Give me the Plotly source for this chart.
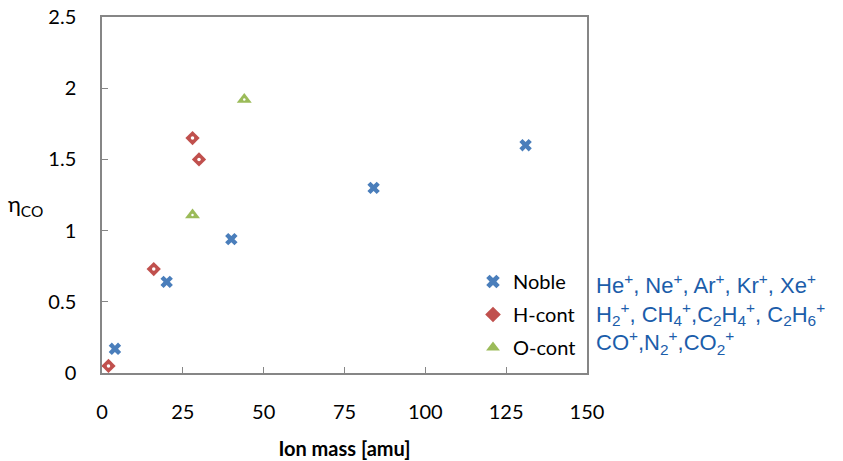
import plotly.graph_objects as go

noble_x = [4, 20, 40, 84, 131]
noble_y = [0.17, 0.64, 0.94, 1.30, 1.60]
hcont_x = [2, 16, 28, 30]
hcont_y = [0.05, 0.73, 1.65, 1.50]
ocont_x = [28, 44]
ocont_y = [1.11, 1.92]

x_ticks = [0, 25, 50, 75, 100, 125, 150]
y_ticks = [0, 0.5, 1, 1.5, 2, 2.5]
y_tick_text = ["0", "0.5", "1", "1.5", "2", "2.5"]

ion_lines = [
    "He<sup>+</sup>, Ne<sup>+</sup>, Ar<sup>+</sup>, Kr<sup>+</sup>, Xe<sup>+</sup>",
    "H<sub>2</sub><sup>+</sup>, CH<sub>4</sub><sup>+</sup>,C<sub>2</sub>H<sub>4</sub><sup>+</sup>, C<sub>2</sub>H<sub>6</sub><sup>+</sup>",
    "CO<sup>+</sup>,N<sub>2</sub><sup>+</sup>,CO<sub>2</sub><sup>+</sup>",
]

FONT = "Lato"
L, R, T, B = 102, 587, 17, 373
W, H = R - L, B - T

fig = go.Figure()
fig.add_trace(go.Scatter(x=noble_x, y=noble_y, mode="markers", name="Noble", legendgroup="a",
                         marker=dict(symbol="x", size=11, color="#4A7EBB", line=dict(width=0))))
fig.add_trace(go.Scatter(x=hcont_x, y=hcont_y, mode="markers", name="H-cont", legendgroup="b",
                         marker=dict(symbol="diamond", size=11, color="#C0504D", line=dict(width=0))))
fig.add_trace(go.Scatter(x=hcont_x, y=hcont_y, mode="markers", showlegend=False, hoverinfo="skip",
                         marker=dict(symbol="circle", size=3.5, color="white", line=dict(width=0))))
fig.add_trace(go.Scatter(x=ocont_x, y=ocont_y, mode="markers", name="O-cont", legendgroup="c",
                         marker=dict(symbol="triangle-up", size=13, color="#9BBB59", line=dict(width=0))))
fig.add_trace(go.Scatter(x=ocont_x, y=ocont_y, mode="markers", showlegend=False, hoverinfo="skip",
                         marker=dict(symbol="circle", size=2.5, color="white", line=dict(width=0))))

fig.update_layout(
    width=843, height=461,
    margin=dict(l=L, r=843 - R, t=T, b=461 - B, autoexpand=False),
    plot_bgcolor="white", paper_bgcolor="white",
    font=dict(family=FONT, size=20, color="black"),
    showlegend=True,
    legend=dict(x=(473 - L) / W, y=(B - 262) / H, xanchor="left", yanchor="top", bgcolor="rgba(0,0,0,0)",
                font=dict(family=FONT, size=20, color="black"), tracegroupgap=4,
                itemsizing="constant", itemwidth=30),
)
fig.update_xaxes(range=[0, 150], tickvals=x_ticks, ticks="inside", ticklen=6, tickcolor="#868686",
                 showline=True, linecolor="#868686", linewidth=1.5, mirror=True, showgrid=False, zeroline=False,
                 ticklabelstandoff=20,
                 title=dict(text="<b>Ion mass [amu]</b>", font=dict(family=FONT, size=20), standoff=20))
fig.update_yaxes(range=[0, 2.5], tickvals=y_ticks, ticktext=y_tick_text, ticks="inside", ticklen=6,
                 tickcolor="#868686", showline=True, linecolor="#868686", linewidth=1.5, mirror=True,
                 showgrid=False, zeroline=False, ticklabelstandoff=20)

fig.add_annotation(x=(6 - L) / W, y=(B - 205) / H, xref="paper", yref="paper", text="η<sub>CO</sub>",
                   showarrow=False, xanchor="left", yanchor="middle",
                   font=dict(family=FONT, size=22, color="black"))

fig.add_annotation(x=(594 - L) / W, y=(B - 268) / H, xref="paper", yref="paper",
                   text="<br>".join(ion_lines), align="left",
                   showarrow=False, xanchor="left", yanchor="top",
                   font=dict(family="Liberation Sans", size=22, color="#1B5DAA"))

fig.write_html("out.html")
